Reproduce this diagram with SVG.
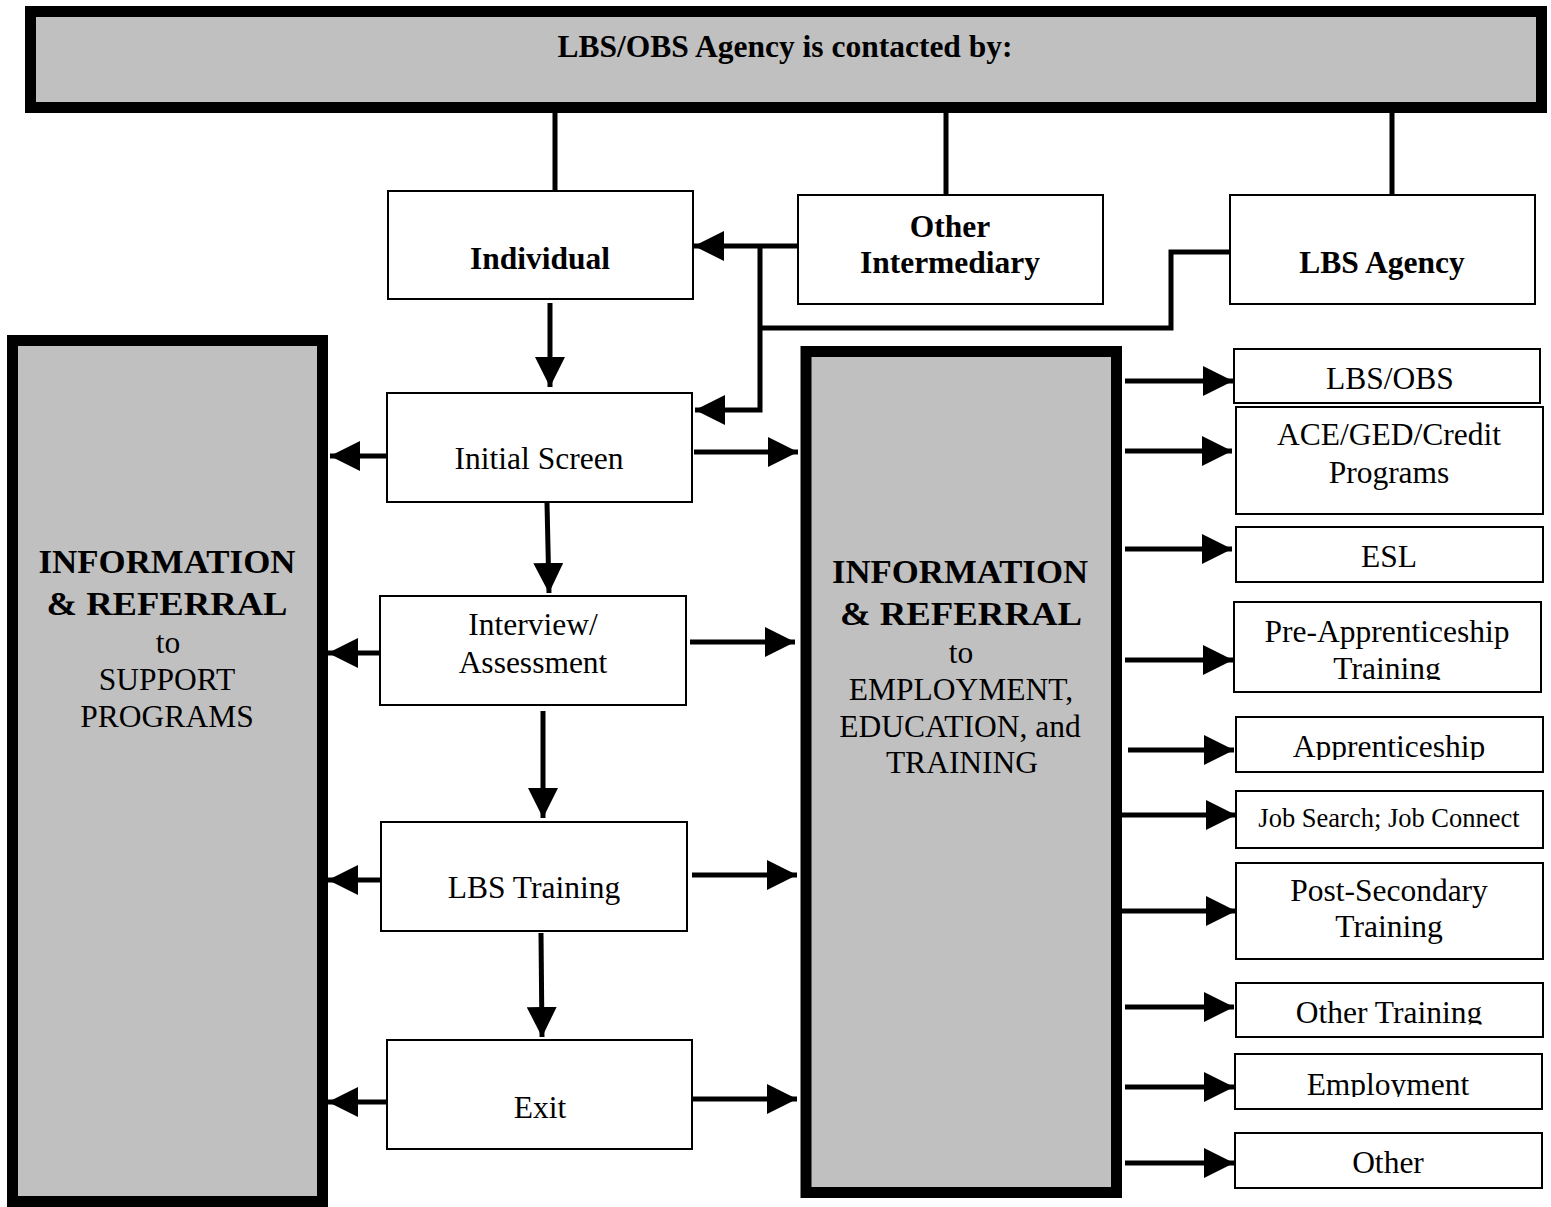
<svg xmlns="http://www.w3.org/2000/svg" width="1551" height="1207" viewBox="0 0 1551 1207">
<style>
.box{fill:#fff;stroke:#000;stroke-width:2}
.big{fill:#c0c0c0;stroke:#000;stroke-width:11}
.t{font-family:"Liberation Serif","Times New Roman",serif;font-size:31.5px;fill:#000;text-anchor:middle}
.b{font-weight:bold}
.h{font-weight:bold;font-size:34.5px}
.s{font-size:26.5px}
.c{fill:none;stroke:#000;stroke-width:5}
.a{fill:none;stroke:#000;stroke-width:5;marker-end:url(#ah)}
</style>
<defs>
<marker id="ah" markerUnits="userSpaceOnUse" markerWidth="30" markerHeight="30" refX="30" refY="15" orient="auto" viewBox="0 0 30 30">
<path d="M0,0 L30,15 L0,30 Z" fill="#000"/>
</marker>
<clipPath id="cpPre"><rect x="1234" y="602" width="307" height="78"/></clipPath>
<clipPath id="cpApp"><rect x="1236" y="717" width="307" height="43"/></clipPath>
<clipPath id="cpOT"><rect x="1236" y="983" width="307" height="41.5"/></clipPath>
<clipPath id="cpEmp"><rect x="1235" y="1054" width="307" height="43"/></clipPath>
</defs>
<rect width="1551" height="1207" fill="#fff"/>

<g id="connectors">
<line class="c" x1="555" y1="110" x2="555" y2="191"/>
<line class="c" x1="946" y1="110" x2="946" y2="195"/>
<line class="c" x1="1392" y1="110" x2="1392" y2="195"/>
<path class="a" d="M797,246 L694,246"/>
<path class="a" d="M760,246 L760,410 L695,410"/>
<path class="c" d="M1229,252 L1171,252 L1171,328 L760,328"/>
<path class="a" d="M550,303 L550,387"/>
<path class="a" d="M547,503 L549,593"/>
<path class="a" d="M543,711 L543,818"/>
<path class="a" d="M541,933 L542,1037"/>
<path class="a" d="M387,456 L330,456"/>
<path class="a" d="M380,653 L328,653"/>
<path class="a" d="M381,880 L328,880"/>
<path class="a" d="M387,1102 L328,1102"/>
<path class="a" d="M694,452 L798,452"/>
<path class="a" d="M690,642 L795,642"/>
<path class="a" d="M692,875 L797,875"/>
<path class="a" d="M692,1099 L797,1099"/>
<path class="a" d="M1125,381 L1233,381"/>
<path class="a" d="M1125,451 L1232,451"/>
<path class="a" d="M1125,549 L1232,549"/>
<path class="a" d="M1125,660 L1233,660"/>
<path class="a" d="M1128,750 L1234,750"/>
<path class="a" d="M1122,815 L1236,815"/>
<path class="a" d="M1122,911 L1236,911"/>
<path class="a" d="M1125,1007 L1234,1007"/>
<path class="a" d="M1125,1087 L1234,1087"/>
<path class="a" d="M1125,1163 L1234,1163"/>
</g>

<g id="top">
<rect class="big" x="30.5" y="11.5" width="1511" height="96"/>
<text class="t b" x="785" y="57" font-size="32">LBS/OBS Agency is contacted by:</text>
</g>

<g id="individual">
<rect class="box" x="388" y="191" width="305" height="108"/>
<text class="t b" x="540" y="269">Individual</text>
</g>
<g id="other-intermediary">
<rect class="box" x="798" y="195" width="305" height="109"/>
<text class="t b" x="950" y="237">Other</text>
<text class="t b" x="950" y="273">Intermediary</text>
</g>
<g id="lbs-agency">
<rect class="box" x="1230" y="195" width="305" height="109"/>
<text class="t b" x="1382" y="273">LBS Agency</text>
</g>

<g id="support">
<rect class="big" x="12.5" y="340.5" width="310" height="861"/>
<text class="t h" x="167" y="573" textLength="257" lengthAdjust="spacingAndGlyphs">INFORMATION</text>
<text class="t h" x="167" y="615" textLength="241" lengthAdjust="spacingAndGlyphs">&amp; REFERRAL</text>
<text class="t" x="168" y="653">to</text>
<text class="t" x="167" y="690">SUPPORT</text>
<text class="t" x="167" y="727">PROGRAMS</text>
</g>

<g id="employment">
<rect class="big" x="806" y="351.5" width="310.5" height="841"/>
<text class="t h" x="960" y="583" textLength="256" lengthAdjust="spacingAndGlyphs">INFORMATION</text>
<text class="t h" x="961" y="625" textLength="242" lengthAdjust="spacingAndGlyphs">&amp; REFERRAL</text>
<text class="t" x="961" y="663">to</text>
<text class="t" x="961" y="700">EMPLOYMENT,</text>
<text class="t" x="960" y="737">EDUCATION, and</text>
<text class="t" x="962" y="773">TRAINING</text>
</g>

<g id="initial-screen">
<rect class="box" x="387" y="393" width="305" height="109"/>
<text class="t" x="539" y="469">Initial Screen</text>
</g>
<g id="interview">
<rect class="box" x="380" y="596" width="306" height="109"/>
<text class="t" x="533" y="635">Interview/</text>
<text class="t" x="533" y="673">Assessment</text>
</g>
<g id="lbs-training">
<rect class="box" x="381" y="822" width="306" height="109"/>
<text class="t" x="534" y="898">LBS Training</text>
</g>
<g id="exit">
<rect class="box" x="387" y="1040" width="305" height="109"/>
<text class="t" x="540" y="1118">Exit</text>
</g>

<g id="lbs-obs">
<rect class="box" x="1234" y="349" width="306" height="54"/>
<text class="t" x="1390" y="389">LBS/OBS</text>
</g>
<g id="ace">
<rect class="box" x="1236" y="407" width="307" height="107"/>
<text class="t" x="1389" y="445">ACE/GED/Credit</text>
<text class="t" x="1389" y="483">Programs</text>
</g>
<g id="esl">
<rect class="box" x="1236" y="527" width="307" height="55"/>
<text class="t" x="1389" y="567">ESL</text>
</g>
<g id="pre-app">
<rect class="box" x="1234" y="602" width="307" height="90"/>
<text class="t" x="1387" y="642">Pre-Apprenticeship</text>
<text class="t" x="1387" y="679" clip-path="url(#cpPre)">Training</text>
</g>
<g id="apprenticeship">
<rect class="box" x="1236" y="717" width="307" height="55"/>
<text class="t" x="1389" y="757" clip-path="url(#cpApp)">Apprenticeship</text>
</g>
<g id="job-search">
<rect class="box" x="1236" y="791" width="307" height="57"/>
<text class="t s" x="1389" y="827">Job Search; Job Connect</text>
</g>
<g id="post-secondary">
<rect class="box" x="1236" y="863" width="307" height="96"/>
<text class="t" x="1389" y="901">Post-Secondary</text>
<text class="t" x="1389" y="937">Training</text>
</g>
<g id="other-training">
<rect class="box" x="1236" y="983" width="307" height="54"/>
<text class="t" x="1389" y="1023" clip-path="url(#cpOT)">Other Training</text>
</g>
<g id="employment-box">
<rect class="box" x="1235" y="1054" width="307" height="55"/>
<text class="t" x="1388" y="1095" clip-path="url(#cpEmp)">Employment</text>
</g>
<g id="other">
<rect class="box" x="1235" y="1133" width="307" height="55"/>
<text class="t" x="1388" y="1173">Other</text>
</g>
</svg>
